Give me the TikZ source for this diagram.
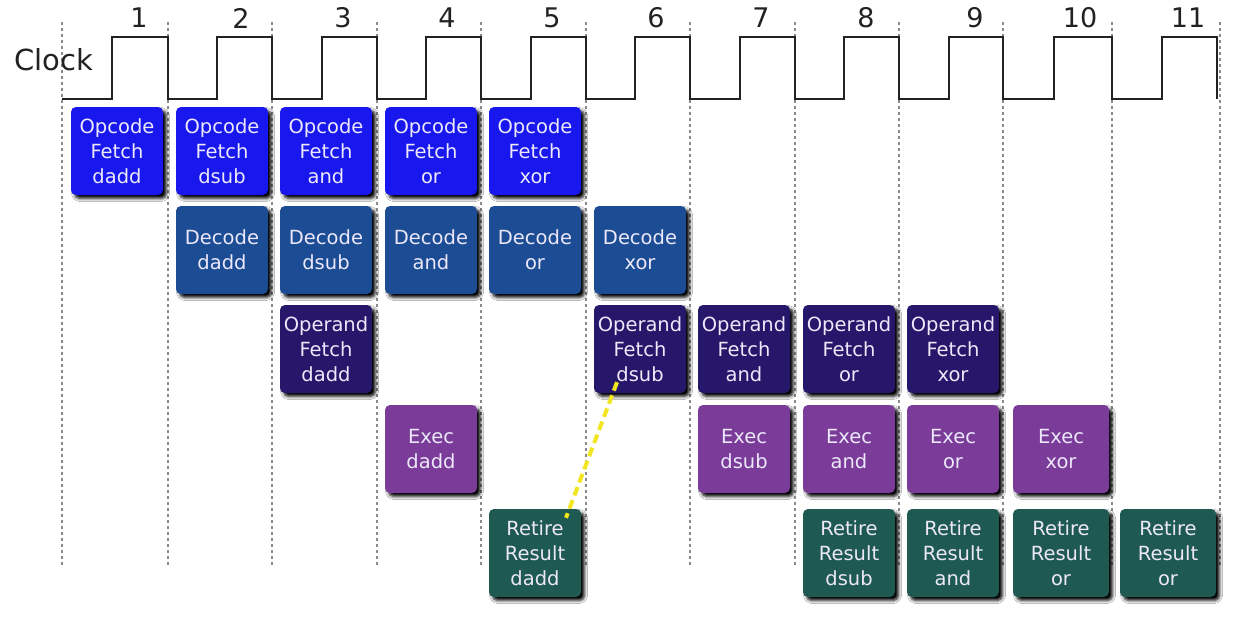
\documentclass[tikz,border=0pt]{standalone}
\usepackage{fontspec}
\setmainfont{DejaVu Sans}
\usetikzlibrary{shadows.blur,calc}
\definecolor{cfetch}{HTML}{1818EE}
\definecolor{cdecode}{HTML}{1B4C94}
\definecolor{coperand}{HTML}{27176A}
\definecolor{cexec}{HTML}{7A3C98}
\definecolor{cretire}{HTML}{1F5A52}
\definecolor{boxtext}{HTML}{ECE8FA}
\definecolor{gridgray}{HTML}{8A8A8A}
\definecolor{clockline}{HTML}{222222}
\definecolor{depyellow}{HTML}{F2E620}
\begin{document}
\begin{tikzpicture}[x=1pt,y=-1pt,
  stagebox/.style={rounded corners=5pt, text=boxtext, align=center,
    font=\fontsize{19.5}{25}\selectfont, minimum height=88pt, minimum width=92pt,
    inner sep=0pt,
    blur shadow={shadow xshift=3.5pt, shadow yshift=-3.5pt, shadow blur radius=3pt, shadow opacity=100}},
  fetchbox/.style={stagebox, fill=cfetch},
  decodebox/.style={stagebox, fill=cdecode},
  operandbox/.style={stagebox, fill=coperand},
  execbox/.style={stagebox, fill=cexec},
  retirebox/.style={stagebox, fill=cretire},
  wide/.style={minimum width=96pt},
  gridline/.style={gridgray, line width=1.2pt, dash pattern=on 3pt off 3pt},
  clockwave/.style={clockline, line width=2pt, line join=miter},
  cyclenum/.style={font=\fontsize{27}{27}\selectfont, text=clockline},
  depline/.style={depyellow, line width=4pt, dash pattern=on 9pt off 5pt}]
\useasboundingbox (0,0) rectangle (1235,627);
\fill[white] (0,0) rectangle (1235,627);

% grid lines
\foreach \x in {62,168,272,377,481,586,690,795,899,1003,1112,1220}
  \draw[gridline] (\x,22) -- (\x,567);

% clock
\node[font=\fontsize{29}{29}\selectfont, text=clockline] (clk) at (54,60) {Clock};
\draw[clockwave] (62,99)
  -- (112,99) -- (112,37) -- (168,37) -- (168,99)
  -- (217,99) -- (217,37) -- (272,37) -- (272,99)
  -- (322,99) -- (322,37) -- (377,37) -- (377,99)
  -- (426,99) -- (426,37) -- (481,37) -- (481,99)
  -- (531,99) -- (531,37) -- (586,37) -- (586,99)
  -- (635,99) -- (635,37) -- (690,37) -- (690,99)
  -- (740,99) -- (740,37) -- (795,37) -- (795,99)
  -- (844,99) -- (844,37) -- (899,37) -- (899,99)
  -- (949,99) -- (949,37) -- (1003,37) -- (1003,99)
  -- (1054,99) -- (1054,37) -- (1112,37) -- (1112,99)
  -- (1162,99) -- (1162,37) -- (1217,37) -- (1217,99);
\foreach \n/\x in {1/139,2/241,3/343,4/447,5/552,6/656,7/761,8/866,9/975,10/1080,11/1188}
  \node[cyclenum] (num\n) at (\x,18) {\n};

% row 1: opcode fetch
\node[fetchbox] (f1) at (117,151) {Opcode\\Fetch\\dadd};
\node[fetchbox] (f2) at (222,151) {Opcode\\Fetch\\dsub};
\node[fetchbox] (f3) at (326,151) {Opcode\\Fetch\\and};
\node[fetchbox] (f4) at (431,151) {Opcode\\Fetch\\or};
\node[fetchbox] (f5) at (535,151) {Opcode\\Fetch\\xor};

% row 2: decode
\node[decodebox] (d2) at (222,250) {Decode\\dadd};
\node[decodebox] (d3) at (326,250) {Decode\\dsub};
\node[decodebox] (d4) at (431,250) {Decode\\and};
\node[decodebox] (d5) at (535,250) {Decode\\or};
\node[decodebox] (d6) at (640,250) {Decode\\xor};

% row 3: operand fetch
\node[operandbox] (o3) at (326,349) {Operand\\Fetch\\dadd};
\node[operandbox] (o6) at (640,349) {Operand\\Fetch\\dsub};
\node[operandbox] (o7) at (744,349) {Operand\\Fetch\\and};
\node[operandbox] (o8) at (849,349) {Operand\\Fetch\\or};
\node[operandbox] (o9) at (953,349) {Operand\\Fetch\\xor};

% row 4: exec
\node[execbox] (e4) at (431,449) {Exec\\dadd};
\node[execbox] (e7) at (744,449) {Exec\\dsub};
\node[execbox] (e8) at (849,449) {Exec\\and};
\node[execbox] (e9) at (953,449) {Exec\\or};
\node[execbox, wide] (e10) at (1061,449) {Exec\\xor};

% row 5: retire
\node[retirebox] (r5) at (535,553) {Retire\\Result\\dadd};
\node[retirebox] (r8) at (849,553) {Retire\\Result\\dsub};
\node[retirebox] (r9) at (953,553) {Retire\\Result\\and};
\node[retirebox, wide] (r10) at (1061,553) {Retire\\Result\\or};
\node[retirebox, wide] (r11) at (1168,553) {Retire\\Result\\or};

% dependency
\coordinate (depA) at ($(o6.south)+(-23,-11)$);
\coordinate (depB) at ($(r5.north)+(31,9)$);
\draw[depline] (depA) -- (depB);
\end{tikzpicture}
\end{document}
